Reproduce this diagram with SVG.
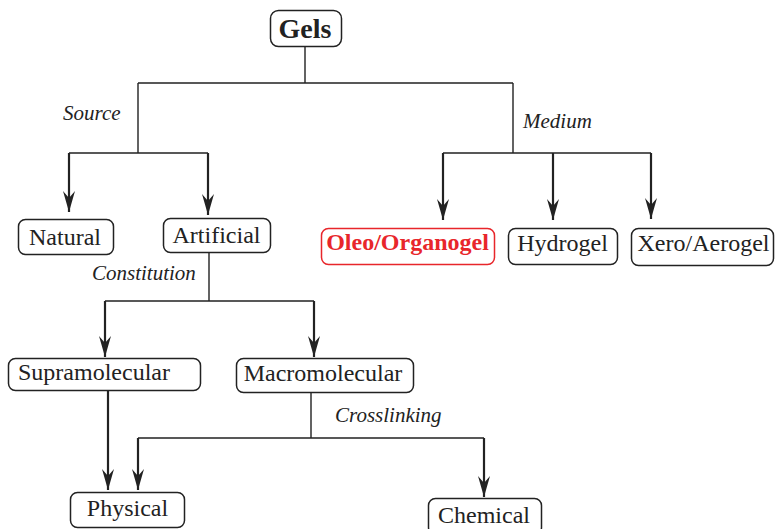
<svg xmlns="http://www.w3.org/2000/svg" width="775" height="529" viewBox="0 0 775 529">
<style>
.box{fill:#fff;stroke:#222;stroke-width:1.5}
.red{fill:#fff;stroke:#e8262b;stroke-width:1.5}
.t{font-family:"Liberation Serif","Times New Roman",serif;font-size:24px;fill:#222;text-anchor:middle}
.lbl{font-family:"Liberation Serif","Times New Roman",serif;font-size:21px;font-style:italic;fill:#222}
.ln{fill:none;stroke:#222;stroke-width:1.4}
.ar{fill:none;stroke:#222;stroke-width:2.2}
</style>
<defs>
<marker id="ah" markerUnits="userSpaceOnUse" markerWidth="24" markerHeight="16" viewBox="-22 -8 24 16" refX="0" refY="0" orient="auto">
<path d="M0,0 L-21,-6 L-14,0 L-21,6 Z" fill="#222"/>
</marker>
</defs>
<g id="connectors">
<path class="ln" d="M305,46 V83 M138,83 H513 M138,83 V153 M69,153 H208 M513,83 V153 M443,153 H651"/>
<path class="ar" d="M69,153 V212" marker-end="url(#ah)"/>
<path class="ar" d="M208,153 V215" marker-end="url(#ah)"/>
<path class="ar" d="M443,153 V220" marker-end="url(#ah)"/>
<path class="ar" d="M553,153 V220" marker-end="url(#ah)"/>
<path class="ar" d="M651,153 V219" marker-end="url(#ah)"/>
<path class="ln" d="M209,252 V301 M105,301 H314 M311,392 V438 M138,438 H484"/>
<path class="ar" d="M105,301 V357" marker-end="url(#ah)"/>
<path class="ar" d="M314,301 V357" marker-end="url(#ah)"/>
<path class="ar" d="M108,390 V490" marker-end="url(#ah)"/>
<path class="ar" d="M138,438 V490" marker-end="url(#ah)"/>
<path class="ar" d="M484,438 V497" marker-end="url(#ah)"/>
</g>
<g id="labels">
<text class="lbl" x="63" y="120">Source</text>
<text class="lbl" x="523" y="128">Medium</text>
<text class="lbl" x="92" y="280">Constitution</text>
<text class="lbl" x="335" y="422">Crosslinking</text>
</g>
<g id="gels"><rect class="box" x="270.500" y="10.500" width="71" height="36" rx="8"/><text class="t" x="305" y="38" style="font-size:28px;font-weight:bold">Gels</text></g>
<g id="natural"><rect class="box" x="18.500" y="219.500" width="95" height="35" rx="7"/><text class="t" x="65" y="245">Natural</text></g>
<g id="artificial"><rect class="box" x="163.500" y="218.500" width="107" height="34" rx="7"/><text class="t" x="216.500" y="243">Artificial</text></g>
<g id="oleo"><rect class="red" x="321.500" y="228.500" width="173" height="36" rx="7"/><text class="t" x="407.500" y="250" style="font-weight:bold;fill:#e8262b">Oleo/Organogel</text></g>
<g id="hydrogel"><rect class="box" x="508.500" y="228.500" width="109" height="36" rx="7"/><text class="t" x="562.500" y="251">Hydrogel</text></g>
<g id="xero"><rect class="box" x="631.500" y="228.500" width="142" height="37" rx="7"/><text class="t" x="703.500" y="251">Xero/Aerogel</text></g>
<g id="supramolecular"><rect class="box" x="8.500" y="358.500" width="192" height="32" rx="7"/><text class="t" x="94" y="380">Supramolecular</text></g>
<g id="macromolecular"><rect class="box" x="236.500" y="358.500" width="177" height="34" rx="7"/><text class="t" x="323" y="381">Macromolecular</text></g>
<g id="physical"><rect class="box" x="70.500" y="492.500" width="114" height="35" rx="7"/><text class="t" x="127.500" y="516">Physical</text></g>
<g id="chemical"><rect class="box" x="428.500" y="498.500" width="113" height="36" rx="7"/><text class="t" x="484" y="523">Chemical</text></g>
</svg>
